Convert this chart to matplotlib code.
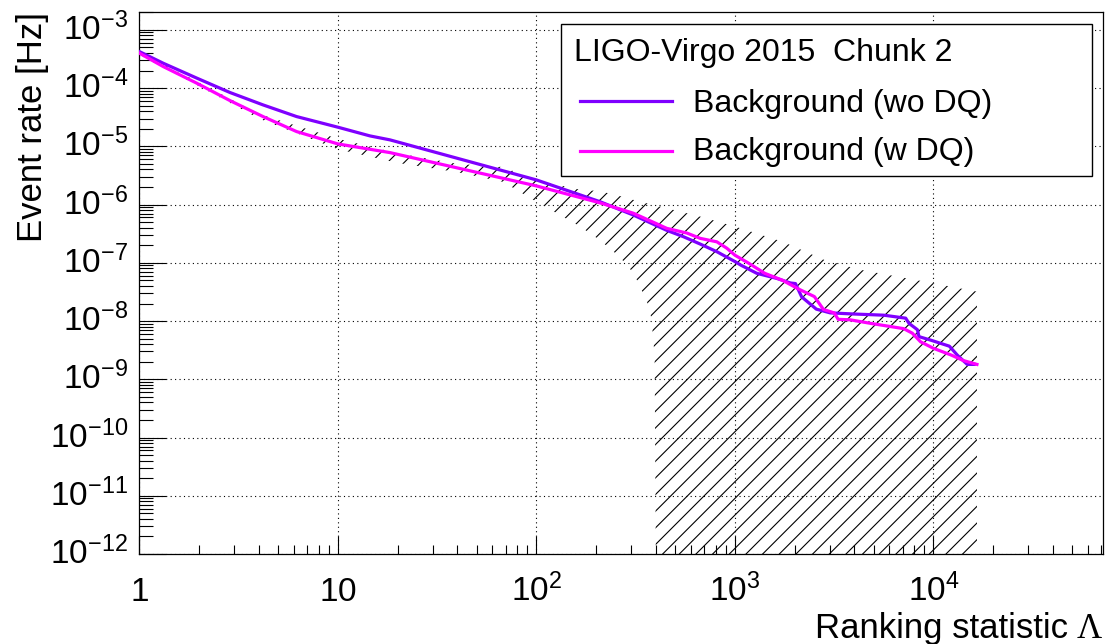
import numpy as np
import matplotlib
matplotlib.use('Agg')
import matplotlib.pyplot as plt
from matplotlib.ticker import FixedLocator, LogLocator, NullFormatter
from matplotlib.patches import Rectangle
from matplotlib.lines import Line2D

plt.rcParams['font.family'] = ['Liberation Sans', 'DejaVu Sans']
plt.rcParams['mathtext.fontset'] = 'custom'
plt.rcParams['mathtext.rm'] = 'Liberation Sans'
plt.rcParams['mathtext.it'] = 'Liberation Sans:italic'
plt.rcParams['mathtext.bf'] = 'Liberation Sans:bold'
plt.rcParams['hatch.linewidth'] = 0.8

# ---------------- data ----------------
wo_x = [1, 1.32, 1.95, 2.86, 4.2, 6.2, 10, 14.5, 18.3, 100, 209, 308, 454, 551, 668, 811,
        1000, 1072, 1288, 1622, 1905, 2018, 2168, 2570, 3020, 3981, 5623, 7244, 7534,
        8299, 8453, 9683, 12023, 13183, 14791, 16032]
wo_rate = [4.24e-4, 2.67e-4, 1.48e-4, 8.4e-5, 5.14e-5, 3.24e-5, 2.13e-5, 1.51e-5, 1.29e-5,
           2.65e-6, 1.12e-6, 6.6e-7, 3.6e-7, 2.8e-7, 2.1e-7, 1.55e-7, 1.05e-7, 9.1e-8,
           6.6e-8, 5.4e-8, 4.5e-8, 4.4e-8, 2.6e-8, 1.6e-8, 1.38e-8, 1.32e-8, 1.26e-8,
           1.12e-8, 9.1e-9, 7.1e-9, 5.4e-9, 4.7e-9, 3.7e-9, 2.6e-9, 1.8e-9, 1.8e-9]

w_x = [1, 1.32, 1.95, 2.86, 4.2, 6.2, 10, 14.5, 18.3, 100, 209, 308, 454, 573, 668, 811,
       910, 1000, 1175, 1413, 1738, 2089, 2512, 2793, 3162, 3311, 3802, 4842, 7079, 7816,
       8610, 10000, 12303, 14125, 16558]
w_rate = [3.98e-4, 2.34e-4, 1.21e-4, 6.1e-5, 3.24e-5, 1.79e-5, 1.10e-5, 8.9e-6, 7.8e-6,
          2.09e-6, 1.07e-6, 7.1e-7, 3.9e-7, 3.24e-7, 2.63e-7, 2.29e-7, 1.78e-7, 1.35e-7,
          9.8e-8, 6.6e-8, 5.0e-8, 3.55e-8, 2.63e-8, 1.58e-8, 1.38e-8, 1.07e-8, 1.05e-8,
          9.1e-9, 7.4e-9, 6.2e-9, 4.4e-9, 3.4e-9, 2.6e-9, 2.1e-9, 1.8e-9]

band_x = [1, 2, 4, 10, 20, 40, 68, 100, 166, 209, 263, 309, 360, 380, 394, 401, 670,
          1000, 1740, 2820, 4270, 8900, 16560]
band_hi = [4.1e-4, 1.25e-4, 3.6e-5, 1.35e-5, 7.6e-6, 5.0e-6, 4.4e-6, 2.6e-6, 1.8e-6,
           1.7e-6, 1.4e-6, 1.2e-6, 1.05e-6, 1.0e-6, 9.8e-7, 9.6e-7, 6.2e-7, 4.2e-7,
           2.3e-7, 1.12e-7, 7.6e-8, 4.8e-8, 3.2e-8]
band_lo = [3.7e-4, 1.08e-4, 3.0e-5, 8.9e-6, 5.2e-6, 3.6e-6, 2.45e-6, 1.12e-6, 4.2e-7,
           2.45e-7, 1.26e-7, 6.6e-8, 2.2e-8, 1.1e-8, 2.5e-9, 1e-13, 1e-13, 1e-13,
           1e-13, 1e-13, 1e-13, 1e-13, 1e-13]

x_ticks = [1, 10, 100, 1000, 10000]
x_tick_labels = [r'$\mathdefault{1}$', r'$\mathdefault{10}$', r'$\mathdefault{10^{2}}$',
                 r'$\mathdefault{10^{3}}$', r'$\mathdefault{10^{4}}$']
y_exponents = [-12, -11, -10, -9, -8, -7, -6, -5, -4, -3]
y_ticks = [10.0 ** e for e in y_exponents]
y_tick_labels = [r'$\mathdefault{10^{%d}}$' % e for e in y_exponents]

legend_title = 'LIGO-Virgo 2015  Chunk 2'
series_labels = ['Background (wo DQ)', 'Background (w DQ)']
series_colors = ['#7f00ff', '#ff00ff']

# ---------------- figure ----------------
W, H = 1106, 644
fig = plt.figure(figsize=(W / 100, H / 100), dpi=100)
L, R, T, B = 139.3, 1102.5, 12.3, 554.0
ax = fig.add_axes([L / W, 1 - B / H, (R - L) / W, (B - T) / H])
ax.set_xscale('log')
ax.set_yscale('log')
ax.set_xlim(1, 7.1e4)
ax.set_ylim(1e-12, 2.0e-3)

ax.fill_between(band_x, band_lo, band_hi, facecolor='none', edgecolor='black',
                hatch='//', linewidth=0, zorder=2)
ax.plot(wo_x, wo_rate, color=series_colors[0], lw=2.3, zorder=3)
ax.plot(w_x, w_rate, color=series_colors[1], lw=2.3, zorder=3)

ax.grid(True, which='major', linestyle=(0, (1, 3)), linewidth=0.8, color='black', zorder=1)
ax.set_axisbelow(True)

ax.xaxis.set_major_locator(FixedLocator(x_ticks))
ax.set_xticklabels(x_tick_labels)
ax.xaxis.set_minor_locator(LogLocator(base=10, subs=np.arange(2, 10), numticks=30))
ax.xaxis.set_minor_formatter(NullFormatter())
ax.yaxis.set_major_locator(FixedLocator(y_ticks))
ax.set_yticklabels(y_tick_labels)
ax.yaxis.set_minor_locator(LogLocator(base=10, subs=np.arange(2, 10), numticks=30))
ax.yaxis.set_minor_formatter(NullFormatter())

ax.tick_params(which='both', direction='in', top=False, right=False, color='black')
ax.tick_params(axis='x', which='major', length=13, width=0.8, labelsize=24, pad=34)
ax.tick_params(axis='x', which='minor', length=6.5, width=0.8)
ax.tick_params(axis='y', which='major', length=19.5, width=0.8, labelsize=24, pad=8)
ax.tick_params(axis='y', which='minor', length=10, width=0.8)
for lab in ax.get_xticklabels():
    lab.set_verticalalignment('baseline')
for lab in ax.get_yticklabels():
    lab.set_verticalalignment('center')

for s in ax.spines.values():
    s.set_linewidth(0.9)
    s.set_color('black')

# axis titles (ROOT style, right/top aligned)
fig.text(33 / W, 1 - 12.3 / H, 'Event rate [Hz]', rotation=90, ha='center', va='top',
         fontsize=25)
renderer = fig.canvas.get_renderer()
lam = fig.text(1102 / W, 1 - 638 / H, 'Λ', fontsize=25, family='Liberation Serif',
               ha='right', va='baseline')
bb = lam.get_window_extent(renderer)
fig.text((bb.x0 - 9) / W, 1 - 638 / H, 'Ranking statistic', fontsize=25,
         ha='right', va='baseline')

# legend box
lx0, lx1, ly0, ly1 = 560.5, 1092.0, 24.3, 175.5
fig.add_artist(Rectangle((lx0 / W, 1 - ly1 / H), (lx1 - lx0) / W, (ly1 - ly0) / H,
                         transform=fig.transFigure, facecolor='white',
                         edgecolor='black', linewidth=1.0, zorder=5))
fig.text(573.5 / W, 1 - 61.3 / H, legend_title, fontsize=23, ha='left', va='baseline',
         zorder=6)
row_base = [111.7, 160.3]
row_line = [100.9, 150.6]
for i in range(2):
    fig.add_artist(Line2D([579.6 / W, 671.5 / W], [1 - row_line[i] / H] * 2,
                          transform=fig.transFigure, color=series_colors[i], lw=2.3,
                          zorder=6))
    fig.text(693 / W, 1 - row_base[i] / H, series_labels[i], fontsize=23, ha='left',
             va='baseline', zorder=6)

fig.savefig('out.png', dpi=100)
